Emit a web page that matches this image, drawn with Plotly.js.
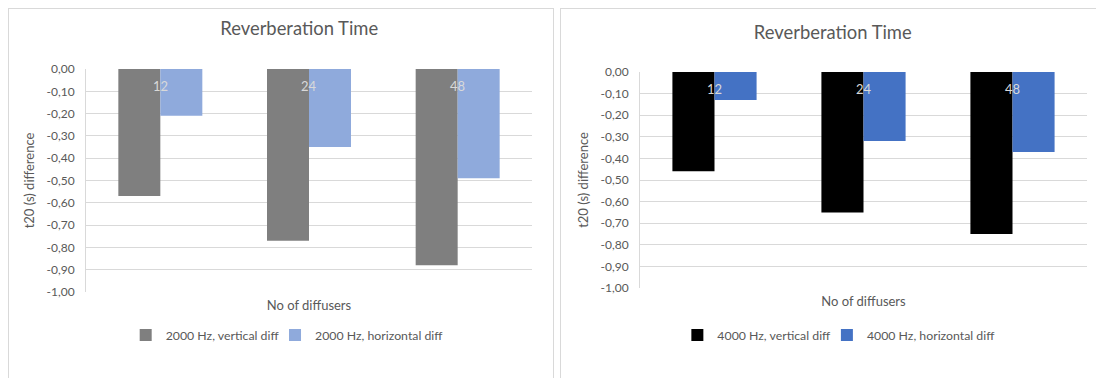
<!DOCTYPE html>
<html>
<head>
<meta charset="utf-8">
<script src="https://cdn.plot.ly/plotly-3.0.1.min.js"></script>
<style>
  html, body { margin: 0; padding: 0; background: #ffffff; overflow: hidden; }
  body { width: 1096px; height: 378px; position: relative; }
  .panel { position: absolute; top: 8px; border-top: 1px solid #d9d9d9; border-left: 1px solid #d9d9d9; }
  #left  { left: 8px;   width: 544px; height: 369px; border-right: 1px solid #d9d9d9; }
  #right { left: 560px; width: 535px; height: 369px; }
</style>
</head>
<body>
<div id="left" class="panel"></div>
<div id="right" class="panel"></div>
<script>
// Number of diffusers (category axis)
const diffusers = ["12", "24", "48"];

// Change in T20 (s) per configuration
const vert2000  = [-0.57, -0.77, -0.88];
const horiz2000 = [-0.21, -0.35, -0.49];
const vert4000  = [-0.46, -0.65, -0.75];
const horiz4000 = [-0.13, -0.32, -0.37];

// Value-axis ticks
const tickValues = [0, -0.1, -0.2, -0.3, -0.4, -0.5, -0.6, -0.7, -0.8, -0.9, -1.0];
const tickLabels = ["0,00", "-0,10", "-0,20", "-0,30", "-0,40", "-0,50", "-0,60", "-0,70", "-0,80", "-0,90", "-1,00"];

const FONT = "Lato, 'Open Sans', sans-serif";
const TEXT = "#595959";
const GRID = "#d9d9d9";

function legendBox(x, y) {
  return {
    orientation: "h", xref: "container", yref: "container",
    x: x, xanchor: "left", y: y, yanchor: "middle",
    font: { family: FONT, size: 12.3, color: TEXT }, bgcolor: "rgba(0,0,0,0)"
  };
}

function makeChart(el, opts) {
  const traces = [
    { type: "bar", x: diffusers, y: opts.vert,  name: opts.vertName,  legend: "legend",
      marker: { color: opts.vertColor } },
    { type: "bar", x: diffusers, y: opts.horiz, name: opts.horizName, legend: "legend2",
      marker: { color: opts.horizColor } }
  ];
  // category name shown at the top of each bar pair
  const labels = diffusers.map((c, i) => ({
    x: i, y: opts.labelY, xref: "x", yref: "y", text: c, showarrow: false,
    font: { family: FONT, size: 13, color: "#d9d9d9" }
  }));
  const layout = {
    width: opts.width, height: opts.height,
    margin: opts.margin,
    paper_bgcolor: "#ffffff", plot_bgcolor: "#ffffff",
    font: { family: FONT, color: TEXT, size: 12 },
    title: { text: "Reverberation Time", font: { family: FONT, size: 18.4, color: TEXT },
             x: opts.titleX, xref: "container", xanchor: "center",
             y: opts.titleY, yref: "container", yanchor: "middle" },
    barmode: "group", bargap: 0.435, bargroupgap: 0,
    xaxis: {
      type: "category", range: [-0.5, 2.5], showticklabels: false, ticks: "",
      showgrid: false, zeroline: false, showline: false, fixedrange: true,
      title: { text: "No of diffusers", font: { family: FONT, size: 13, color: TEXT }, standoff: 8 }
    },
    yaxis: {
      range: [-1, 0], tickvals: tickValues, ticktext: tickLabels, ticks: "",
      ticklabelstandoff: 8,
      showgrid: true, gridcolor: GRID, gridwidth: 1, zeroline: false,
      showline: true, linecolor: GRID, linewidth: 1, fixedrange: true,
      tickfont: { family: FONT, size: 12, color: TEXT },
      title: { text: "t20 (s) difference", font: { family: FONT, size: 13, color: TEXT }, standoff: 8 }
    },
    showlegend: true,
    legend: legendBox(opts.legendX, opts.legendY),
    legend2: legendBox(opts.legend2X, opts.legendY),
    annotations: labels
  };
  Plotly.newPlot(el, traces, layout, { displayModeBar: false, staticPlot: true });
}

makeChart("left", {
  vert: vert2000, horiz: horiz2000,
  vertName: "2000 Hz, vertical diff", horizName: "2000 Hz, horizontal diff",
  vertColor: "#7f7f7f", horizColor: "#8faadc",
  width: 544, height: 369,
  margin: { l: 77, r: 21, t: 60, b: 86 },
  titleX: 0.5335, titleY: 0.946,
  legendX: 0.2145, legend2X: 0.489, legendY: 0.1165,
  labelY: -0.075
});

makeChart("right", {
  vert: vert4000, horiz: horiz4000,
  vertName: "4000 Hz, vertical diff", horizName: "4000 Hz, horizontal diff",
  vertColor: "#000000", horizColor: "#4472c4",
  width: 535, height: 369,
  margin: { l: 79, r: 9, t: 63, b: 90 },
  titleX: 0.508, titleY: 0.935,
  legendX: 0.2175, legend2X: 0.497, legendY: 0.1165,
  labelY: -0.079
});
</script>
</body>
</html>
